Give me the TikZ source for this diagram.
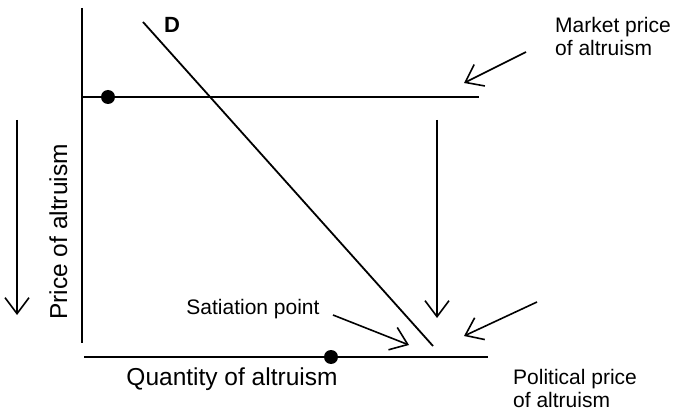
\documentclass[tikz,border=0pt]{standalone}
\usepackage{fontspec}
\setmainfont{Liberation Sans}
\usetikzlibrary{arrows.meta}
\begin{document}
\begin{tikzpicture}[x=1pt,y=-1pt,
  ln/.style={line width=1.8pt},
  arr/.style={line width=1.6pt,-{Straight Barb[length=16pt,width=24pt,line width=1.6pt]}},
  lbl/.style={font=\fontsize{21}{23.5}\selectfont,inner sep=0pt,align=left},
  axlbl/.style={font=\fontsize{24.5}{28}\selectfont,inner sep=0pt},
  dot/.style={circle,fill=black,minimum size=14pt,inner sep=0pt}]
\useasboundingbox (0,0) rectangle (673,417);
% axes
\coordinate (yT) at (82,8);
\coordinate (yB) at (82,343);
\coordinate (xL) at (84,357);
\coordinate (xR) at (488,357);
\draw[ln] (yT) -- (yB);
\draw[ln] (xL) -- (xR);
% market price line
\coordinate (mL) at (82,97);
\coordinate (mR) at (479,97);
\draw[ln] (mL) -- (mR);
% demand line
\coordinate (dT) at (143,22);
\coordinate (dB) at (433,346);
\draw[ln] (dT) -- (dB);
\node[font=\fontsize{22}{24}\selectfont\bfseries,inner sep=0pt,anchor=base] (D) at (172,33) {D};
% dots
\node[dot] (dot1) at (108,97) {};
\node[dot] (dot2) at (331,357) {};
% labels
\node[lbl,anchor=north west] (mkt) at (555,17) {Market price\\of altruism};
\node[lbl,anchor=north west] (pol) at (513,369) {Political price\\of altruism};
\node[lbl,anchor=base] (sat) at (253,315) {Satiation point};
\node[axlbl,anchor=base] (qty) at (232,385) {Quantity of altruism};
\node[axlbl,rotate=90,anchor=base] (prc) at (67,232) {Price of altruism};
% arrows
\coordinate (a1s) at (17,120);
\coordinate (a1e) at (17,315);
\draw[arr] (a1s) -- (a1e);
\coordinate (a2s) at (437,120);
\coordinate (a2e) at (437,318);
\draw[arr] (a2s) -- (a2e);
\coordinate (a3s) at (526,52);
\coordinate (a3e) at (464,83);
\draw[arr] (a3s) -- (a3e);
\coordinate (a4s) at (333,315);
\coordinate (a4e) at (409,345);
\draw[arr] (a4s) -- (a4e);
\coordinate (a5s) at (537,302);
\coordinate (a5e) at (464,336);
\draw[arr] (a5s) -- (a5e);
\end{tikzpicture}
\end{document}
